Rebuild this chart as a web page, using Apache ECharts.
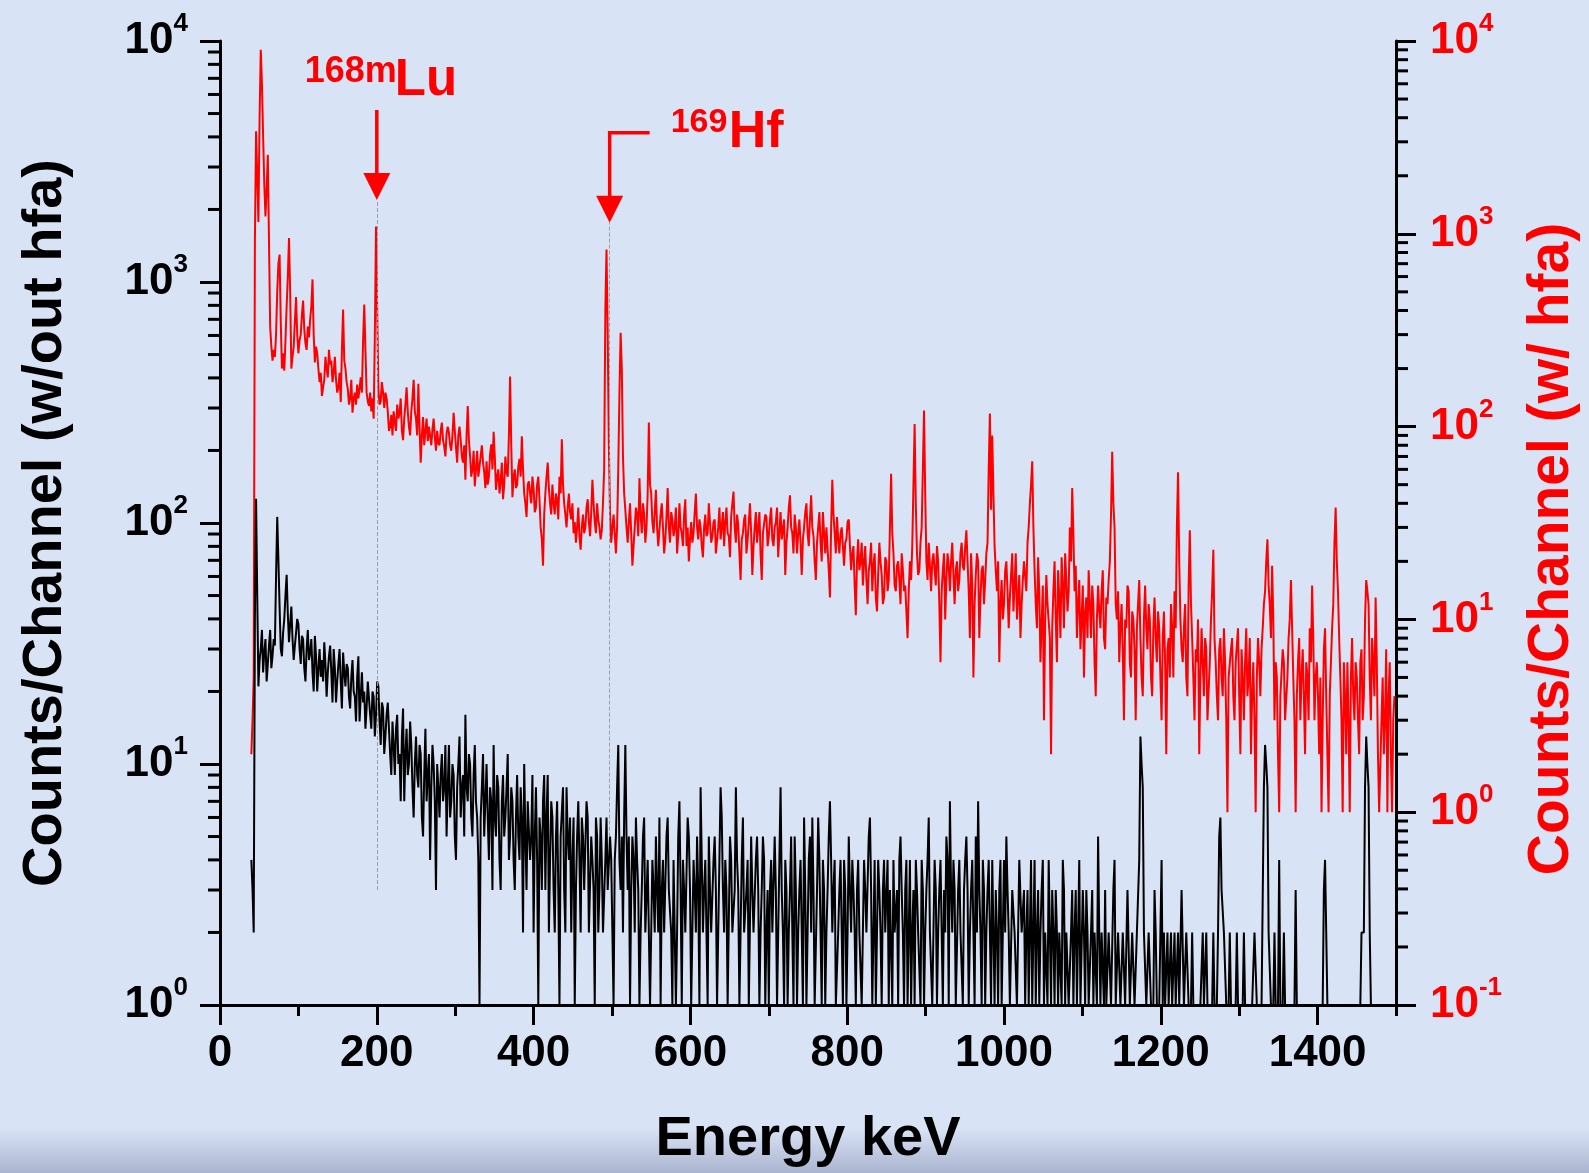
<!DOCTYPE html>
<html>
<head>
	<title>gamma spectrum</title>
	<meta charset="utf-8">
	<style>
		html, body {
			margin: 0;
			padding: 0;
		}
		#main {
			width: 1589px;
			height: 1173px;
		}
	</style>
	<script src="https://cdn.jsdelivr.net/npm/echarts@6/dist/echarts.min.js"></script>
</head>
<body>

<div id="main"></div>

<script>

// channel grid of the spectra (keV)
var energyStart = 40;
var energyStep = 1.5;

// counts with hfa (red, right axis), one row = 30 keV
var redCounts = [
	2, 3, 5, 900, 3400, 2000, 1150, 4000, 9000, 6000, 3200, 1800, 1230, 1700, 2570, 900, 330, 260, 220, 250,
	230, 300, 500, 700, 780, 350, 200, 240, 195, 280, 420, 600, 950, 500, 200, 230, 260, 350, 470, 300,
	240, 280, 300, 380, 450, 320, 270, 250, 330, 290, 360, 420, 580, 300, 215, 260, 240, 200, 170, 190,
	144, 160, 175, 230, 200, 180, 250, 210, 220, 170, 190, 230, 175, 150, 160, 190, 134, 250, 405, 220,
	200, 170, 157, 130, 140, 175, 118, 140, 150, 130, 165, 140, 157, 180, 150, 280, 430, 250, 150, 135,
	128, 150, 120, 140, 110, 300, 1090, 400, 157, 130, 135, 170, 150, 125, 150, 140, 120, 95, 100, 115,
	90, 120, 105, 95, 130, 110, 118, 140, 95, 85, 110, 130, 160, 120, 100, 90, 120, 140, 175, 120,
	110, 90, 167, 100, 65, 90, 112, 80, 95, 110, 84, 100, 100, 80, 97, 110, 88, 75, 95, 82,
	80, 95, 105, 85, 79, 70, 92, 100, 93, 80, 75, 90, 118, 95, 78, 65, 90, 100, 85, 70,
	65, 80, 53, 90, 128, 85, 70, 55, 60, 75, 49, 60, 75, 55, 62, 70, 80, 65, 58, 48,
	66, 50, 55, 72, 81, 60, 94, 70, 47, 55, 60, 45, 52, 65, 42, 50, 70, 58, 55, 90,
	182, 80, 43, 55, 60, 48, 50, 62, 68, 55, 89, 60, 45, 40, 34, 50, 52, 45, 40, 55,
	48, 36, 38, 50, 55, 42, 30, 26, 19, 35, 45, 55, 65, 48, 40, 35, 50, 40, 35, 45,
	42, 33, 55, 45, 86, 50, 40, 35, 30, 38, 45, 36, 33, 40, 28, 32, 25, 30, 38, 27,
	23, 30, 35, 28, 30, 38, 42, 32, 27, 36, 53, 40, 32, 28, 40, 33, 30, 26, 29, 40,
	60, 400, 830, 300, 80, 35, 25, 30, 35, 28, 22, 30, 60, 150, 307, 200, 70, 45, 37, 30,
	25, 32, 40, 28, 19, 24, 30, 38, 35, 27, 54, 35, 28, 40, 35, 25, 30, 45, 105, 50,
	45, 32, 28, 36, 47, 30, 24, 29, 35, 40, 30, 22, 26, 34, 48, 30, 25, 36, 33, 27,
	30, 38, 22, 27, 40, 30, 28, 24, 35, 42, 24, 30, 20, 26, 32, 25, 28, 36, 45, 30,
	26, 33, 30, 24, 21, 30, 35, 27, 28, 40, 40, 25, 27, 32, 33, 22, 22, 30, 38, 26,
	30, 36, 24, 32, 38, 28, 27, 21, 34, 40, 46, 30, 25, 35, 31, 22, 16, 26, 28, 33,
	35, 22, 26, 32, 40, 28, 17, 24, 30, 36, 25, 30, 36, 22, 16, 28, 28, 35, 34, 24,
	27, 33, 38, 26, 24, 30, 32, 38, 21, 28, 36, 26, 26, 33, 17, 25, 30, 38, 44, 30,
	28, 22, 35, 30, 22, 28, 33, 25, 17, 26, 30, 36, 40, 28, 24, 33, 44, 30, 27, 20,
	16, 25, 30, 36, 25, 20, 36, 28, 22, 30, 30, 18, 13, 30, 53, 35, 28, 22, 34, 26,
	22, 28, 30, 24, 19, 25, 26, 32, 33, 24, 18, 22, 24, 15, 10.5, 20, 26, 18, 20, 25,
	15, 20, 24, 16, 12, 18, 20, 25, 14, 19, 22, 13, 11, 17, 25, 20, 17, 12, 13, 21,
	20, 14, 16, 30, 57, 28, 22, 15, 14, 19, 20, 16, 12, 22, 18, 14, 15, 11, 8, 14,
	20, 16, 24, 50, 103, 40, 22, 17, 18, 25, 30, 60, 121, 45, 20, 16, 25, 19, 14, 20,
	22, 18, 15, 24, 20, 12, 6, 14, 18, 22, 10, 16, 22, 19, 14, 20, 25, 17, 12, 18,
	20, 14, 16, 22, 25, 19, 18, 24, 29, 20, 14, 8, 22, 15, 5, 12, 17, 22, 20, 8,
	13, 18, 19, 12, 16, 22, 25, 60, 117, 37, 90, 45, 24, 18, 14, 20, 6, 12, 16, 10,
	12, 18, 20, 14, 9, 13, 17, 22, 11, 15, 22, 10, 13, 17, 8, 12, 16, 20, 20, 14,
	25, 30, 40, 50, 66, 30, 18, 12, 9, 21, 14, 6, 6, 15, 3, 10, 17, 12, 12, 8,
	2, 9, 14, 20, 10, 6, 18, 13, 8, 21, 15, 9, 22, 16, 11, 14, 30, 20, 48, 28,
	14, 19, 8, 12, 16, 7, 10, 15, 5, 11, 13, 8, 18, 12, 8, 15, 12, 6, 4, 10,
	15, 11, 9, 14, 18, 8, 7, 13, 12, 16, 20, 35, 74, 40, 30, 12, 10, 14, 6, 9,
	12, 7, 3, 10, 9, 15, 14, 6, 5, 11, 10, 7, 3, 9, 12, 16, 8, 5, 4, 10,
	15, 9, 7, 12, 10, 5, 4, 9, 13, 8, 6, 11, 9, 5, 3, 8, 11, 6, 2, 7,
	8, 5, 12, 9, 5, 14, 9, 30, 58, 20, 10, 7, 6, 9, 12, 5, 4, 15, 29, 12,
	8, 5, 3, 7, 6, 10, 2, 5, 9, 6, 4, 8, 7, 3, 3, 6, 10, 14, 23, 8,
	6, 4, 3, 7, 8, 5, 4, 9, 6, 3, 1, 5, 5, 7, 8, 4, 3, 6, 6, 9,
	4, 2, 7, 5, 3, 6, 9, 4, 5, 8, 2, 4, 6, 3, 1, 5, 8, 6, 4, 7,
	9, 12, 14, 20, 26, 15, 12, 8, 19, 10, 3, 6, 5, 2, 1, 4, 4, 7, 6, 3,
	3, 5, 8, 10, 16, 9, 5, 3, 1, 4, 6, 8, 3, 5, 7, 4, 2, 6, 5, 3,
	9, 6, 15, 8, 3, 5, 6, 4, 2, 5, 1, 3, 7, 9, 4, 2, 1, 4, 6, 9,
	12, 25, 38, 20, 14, 8, 5, 3, 1, 6, 4, 2, 6, 3, 1, 5, 8, 4, 3, 6,
	5, 3, 2, 6, 7, 3, 4, 10, 16, 14, 12, 5, 3, 8, 6, 4, 13, 6, 2, 1,
	1, 3, 5, 2, 3, 7, 1, 4, 6, 2, 1, 3, 4
];

// counts without hfa (black, left axis), one row = 30 keV
var blackCounts = [
	4, 3, 2, 40, 126, 50, 21, 27, 30, 36, 24, 29, 33, 22, 26, 31, 36, 25, 28, 33,
	31, 60, 106, 70, 45, 30, 28, 35, 40, 50, 61, 42, 32, 38, 45, 33, 27, 31, 35, 40,
	38, 30, 26, 34, 33, 25, 22, 30, 36, 27, 29, 33, 24, 20, 34, 28, 20, 25, 30, 23,
	27, 22, 32, 26, 19, 24, 28, 31, 24, 18, 30, 25, 18, 22, 26, 30, 22, 17, 29, 24,
	21, 26, 25, 19, 17, 23, 27, 20, 19, 15, 23, 28, 15, 19, 24, 18, 20, 14, 17, 22,
	22, 16, 14, 20, 19, 13, 16, 22, 21, 15, 12, 18, 17, 11, 13, 16, 18, 14, 11, 9,
	15, 12, 9, 14, 16, 10, 11, 7, 13, 17, 7, 11, 14, 9, 10, 15, 12, 8, 6, 10,
	13, 9, 8, 12, 11, 6, 5, 9, 14, 7, 9, 11, 4, 8, 12, 10, 7, 3, 10, 8,
	6, 9, 11, 7, 8, 12, 5, 8, 12, 6, 7, 10, 9, 5, 4, 8, 10, 13, 6, 8,
	9, 5, 16, 8, 7, 11, 10, 6, 5, 9, 12, 7, 6, 4, 1, 6, 8, 11, 5, 7,
	10, 6, 4, 8, 7, 3, 12, 6, 5, 9, 8, 4, 3, 7, 9, 5, 6, 8, 11, 4,
	5, 8, 7, 4, 3, 6, 9, 5, 4, 8, 6, 2, 10, 5, 3, 7, 7, 4, 5, 9,
	2, 5, 8, 4, 1, 6, 5, 3, 7, 9, 3, 6, 9, 2, 4, 7, 6, 3, 2, 5,
	7, 3, 1, 5, 5, 8, 3, 2, 8, 5, 4, 6, 2, 4, 6, 1, 3, 5, 7, 4,
	2, 6, 5, 3, 3, 7, 6, 2, 2, 5, 4, 3, 1, 6, 5, 2, 3, 6, 4, 2,
	2, 4, 6, 3, 3, 5, 4, 2, 1, 4, 5, 8, 12, 4, 3, 5, 2, 6, 12, 5,
	3, 5, 1, 3, 5, 4, 2, 6, 4, 3, 1, 2, 3, 5, 6, 2, 2, 4, 4, 1,
	1, 4, 3, 2, 5, 3, 2, 6, 1, 3, 4, 2, 2, 5, 6, 3, 3, 2, 1, 4,
	4, 1, 2, 5, 7, 3, 1, 4, 3, 2, 2, 6, 5, 3, 1, 2, 4, 3, 2, 5,
	3, 1, 8, 4, 2, 3, 4, 2, 1, 5, 3, 2, 2, 4, 5, 3, 1, 2, 4, 8,
	6, 3, 2, 4, 3, 1, 1, 5, 4, 2, 2, 3, 8, 4, 3, 1, 1, 4, 6, 2,
	2, 3, 4, 1, 1, 5, 3, 2, 2, 4, 5, 3, 1, 2, 3, 5, 4, 1, 2, 3,
	1, 3, 4, 2, 2, 5, 3, 1, 1, 4, 8, 3, 2, 1, 4, 3, 1, 2, 3, 5,
	2, 1, 5, 3, 1, 2, 3, 4, 2, 1, 6, 3, 1, 2, 4, 5, 2, 6, 3, 1,
	1, 3, 6, 4, 2, 1, 4, 3, 1, 2, 3, 5, 7, 4, 2, 3, 4, 1, 1, 2,
	3, 4, 2, 1, 4, 3, 1, 2, 5, 3, 2, 4, 3, 2, 1, 3, 4, 2, 2, 1,
	1, 4, 3, 2, 2, 5, 6, 3, 1, 2, 4, 1, 2, 4, 3, 2, 1, 3, 4, 2,
	2, 4, 1, 3, 3, 1, 4, 2, 2, 3, 1, 4, 5, 3, 2, 1, 3, 4, 1, 2,
	4, 1, 2, 3, 1, 4, 3, 2, 2, 1, 4, 3, 1, 2, 3, 4, 6, 2, 2, 1,
	1, 4, 3, 1, 2, 3, 4, 2, 1, 3, 2, 5, 4, 1, 7, 3, 2, 4, 3, 1,
	1, 3, 4, 2, 2, 1, 3, 4, 5, 3, 1, 2, 3, 4, 2, 1, 5, 2, 7, 3,
	2, 1, 4, 3, 1, 2, 3, 4, 2, 1, 4, 2, 1, 3, 2, 1, 3, 4, 1, 2,
	4, 2, 5, 3, 2, 1, 1, 3, 3, 2, 2, 1, 1, 4, 4, 2, 2, 3, 1, 2,
	3, 1, 2, 4, 1, 2, 4, 1, 2, 3, 1, 2, 3, 4, 1, 2, 2, 1, 4, 2,
	1, 3, 2, 1, 3, 2, 1, 2, 2, 1, 4, 3, 1, 2, 2, 1, 1, 2, 3, 1,
	2, 3, 1, 2, 4, 1, 1, 3, 2, 1, 3, 2, 1, 1, 2, 3, 1, 2, 2, 1,
	5, 2, 1, 2, 2, 1, 3, 1, 1, 2, 2, 1, 1, 3, 4, 1, 1, 2, 2, 1,
	1, 2, 2, 1, 1, 3, 3, 1, 1, 2, 2, 1, 1, 2, 2, 4, 13, 10, 8, 2,
	2, 1, 1, 2, 2, 1, 1, 1, 3, 2, 1, 1, 1, 2, 4, 1, 2, 1, 1, 2,
	1, 1, 2, 1, 1, 2, 1, 1, 2, 1, 1, 3, 3, 1, 1, 2, 2, 1, 1, 1,
	2, 1, 1, 1, 1, 1, 1, 1, 1, 2, 1, 1, 2, 1, 1, 1, 1, 1, 2, 1,
	1, 1, 2, 5, 6, 3, 3, 2, 2, 1, 1, 1, 2, 1, 1, 1, 1, 1, 2, 1,
	1, 1, 1, 1, 2, 1, 1, 1, 1, 1, 1, 1, 1, 2, 2, 1, 1, 1, 1, 1,
	1, 8, 12, 10, 8, 2, 2, 1, 1, 1, 2, 1, 1, 1, 4, 1, 1, 1, 2, 1,
	1, 1, 1, 1, 1, 1, 1, 1, 3, 1, 1, 1, 1, 1, 1, 1, 1, 1, 1, 1,
	1, 1, 1, 1, 1, 1, 1, 1, 1, 1, 1, 1, 3, 4, 4, 1, 1, 1, 1, 1,
	1, 1, 1, 1, 1, 1, 1, 1, 1, 1, 1, 1, 1, 1, 1, 1, 1, 1, 1, 1,
	1, 1, 1, 1, 2, 2, 2, 8, 13, 10, 8, 2, 1, null, null, null, null, null, null, null,
	null, null, null, null, null, null, null, null, null, null, null, null, null
];

// x axis ticks
var xMajorTicks = [0, 200, 400, 600, 800, 1000, 1200, 1400];
var xMinorTicks = [100, 300, 500, 700, 900, 1100, 1300, 1500];

// peak markers: energy, arrow tip and foot of the dashed line (left axis units)
var markers = [
	{ iso: '168m', elem: 'Lu', energy: 200, tip: 2190, foot: 3, elbow: false },
	{ iso: '169', elem: 'Hf', energy: 497, tip: 1763, foot: 5, elbow: true }
];

var FONT = '"Liberation Sans", Arial, Helvetica, sans-serif';

function toPoints (counts) {
	return counts.map(function (v, i) {
		return [energyStart + i * energyStep, v];
	});
}

function logMinorTicks (fromExp, toExp) {
	var list = [];
	for (var e = fromExp; e < toExp; e++) {
		for (var m = 2; m <= 9; m++) {
			list.push(m * Math.pow(10, e));
		}
	}
	return list;
}

function powLabel (color, margin) {
	return {
		margin: margin,
		formatter: function (v) {
			var e = Math.round(Math.log10(v));
			return '{b|10}{s|' + e + '}';
		},
		rich: {
			b: { fontSize: 44, lineHeight: 60, fontWeight: 'bold', fontFamily: FONT, color: color },
			s: { fontSize: 26, lineHeight: 26, verticalAlign: 'top', fontWeight: 'bold', fontFamily: FONT, color: color }
		}
	};
}

var axisLine = { show: true, onZero: false, lineStyle: { color: '#000', width: 3 } };
var majorTick = { show: true, length: 20, lineStyle: { color: '#000', width: 3 } };

var chart = echarts.init(document.getElementById('main'));

var option = {
	animation: false,
	backgroundColor: {
		type: 'linear', x: 0, y: 0, x2: 0, y2: 1,
		colorStops: [
			{ offset: 0, color: '#d8e3f6' },
			{ offset: 0.962, color: '#d8e3f6' },
			{ offset: 1, color: '#aab4cf' }
		]
	},
	grid: { left: 220, right: 186, top: 41, bottom: 168 },
	xAxis: [
		{
			type: 'value', min: 0, max: 1500, position: 'bottom',
			axisLine: axisLine,
			axisTick: Object.assign({ customValues: xMajorTicks }, majorTick),
			axisLabel: {
				customValues: xMajorTicks, margin: 27,
				fontSize: 44, fontWeight: 'bold', fontFamily: FONT, color: '#000',
				formatter: function (v) { return String(v); }
			},
			splitLine: { show: false },
			name: 'Energy keV', nameLocation: 'middle', nameGap: 107,
			nameTextStyle: { fontSize: 56, fontWeight: 'bold', fontFamily: FONT, color: '#000' }
		},
		{
			type: 'value', min: 0, max: 1500, position: 'bottom',
			axisLine: { show: false, onZero: false },
			axisTick: { show: true, length: 11, customValues: xMinorTicks, lineStyle: { color: '#000', width: 3 } },
			axisLabel: { show: false },
			splitLine: { show: false }
		}
	],
	yAxis: [
		{
			type: 'log', logBase: 10, min: 1, max: 10000, position: 'left',
			axisLine: axisLine,
			axisTick: majorTick,
			axisLabel: powLabel('#000', 32),
			splitLine: { show: false },
			name: 'Counts/Channel (w/out hfa)', nameLocation: 'middle', nameGap: 146,
			nameTextStyle: { fontSize: 56, fontWeight: 'bold', fontFamily: FONT, color: '#000' }
		},
		{
			type: 'log', logBase: 10, min: 0.1, max: 10000, position: 'right',
			axisLine: axisLine,
			axisTick: majorTick,
			axisLabel: powLabel('#ff0000', 34),
			splitLine: { show: false },
			name: 'Counts/Channel (w/ hfa)', nameLocation: 'middle', nameGap: 128,
			nameTextStyle: { fontSize: 57, fontWeight: 'bold', fontFamily: FONT, color: '#ff0000', padding: [0, 52, 0, 0] }
		}
	],
	series: [
		{
			name: 'w/ hfa', type: 'line', xAxisIndex: 0, yAxisIndex: 1,
			data: toPoints(redCounts),
			showSymbol: false, symbol: 'none',
			lineStyle: { color: '#ff0000', width: 2 },
			z: 2
		},
		{
			name: 'w/out hfa', type: 'line', xAxisIndex: 0, yAxisIndex: 0,
			data: toPoints(blackCounts),
			showSymbol: false, symbol: 'none', connectNulls: false,
			lineStyle: { color: '#000', width: 2 },
			z: 3,
			markLine: {
				silent: true, symbol: ['none', 'none'],
				label: { show: false },
				lineStyle: { type: 'dashed', color: '#9a9ea6', width: 1 },
				data: markers.map(function (m) {
					return [{ coord: [m.energy, m.foot] }, { coord: [m.energy, m.tip] }];
				})
			}
		}
	]
};

chart.setOption(option);

var graphics = [];

// minor ticks of the two log axes
var leftX = chart.convertToPixel({ xAxisIndex: 0 }, 0);
var rightX = chart.convertToPixel({ xAxisIndex: 0 }, 1500);
logMinorTicks(0, 4).forEach(function (v) {
	var y = chart.convertToPixel({ yAxisIndex: 0 }, v);
	graphics.push({
		type: 'line', silent: true,
		shape: { x1: leftX - 12, y1: y, x2: leftX, y2: y },
		style: { stroke: '#000', lineWidth: 3 }
	});
});
logMinorTicks(-1, 4).forEach(function (v) {
	var y = chart.convertToPixel({ yAxisIndex: 1 }, v);
	graphics.push({
		type: 'line', silent: true,
		shape: { x1: rightX, y1: y, x2: rightX + 12, y2: y },
		style: { stroke: '#000', lineWidth: 3 }
	});
});

// arrows and isotope labels, anchored at the arrow tips
var red = '#ff0000';
markers.forEach(function (m) {
	var p = chart.convertToPixel({ xAxisIndex: 0, yAxisIndex: 0 }, [m.energy, m.tip]);
	var x = p[0], y = p[1];
	var shaft = m.elbow
		? [[x + 40, y - 90], [x, y - 90], [x, y - 24]]
		: [[x, y - 90], [x, y - 24]];
	graphics.push({
		type: 'polyline', silent: true,
		shape: { points: shaft },
		style: { stroke: red, lineWidth: 3.5, fill: null }
	});
	graphics.push({
		type: 'polygon', silent: true,
		shape: { points: [[x - 13.5, y - 27], [x + 13.5, y - 27], [x, y]] },
		style: { fill: red }
	});
	var supX = m.elbow ? x + 61 : x - 72;
	var supY = m.elbow ? y - 100 : y - 128;
	var elX = m.elbow ? x + 119 : x + 18;
	var elY = m.elbow ? y - 90 : y - 119;
	graphics.push({
		type: 'text', silent: true,
		style: {
			x: supX, y: supY, text: m.iso, fill: red,
			font: 'bold ' + (m.elbow ? 34 : 36) + 'px ' + FONT,
			textAlign: 'left', textVerticalAlign: 'middle'
		}
	});
	graphics.push({
		type: 'text', silent: true,
		style: {
			x: elX, y: elY, text: m.elem, fill: red,
			font: 'bold ' + (m.elbow ? 52 : 51) + 'px ' + FONT,
			textAlign: 'left', textVerticalAlign: 'middle'
		}
	});
});
chart.setOption({ graphic: graphics });

</script>
</body>
</html>
